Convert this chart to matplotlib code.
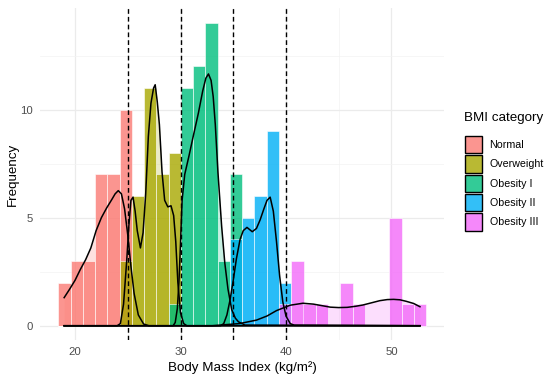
import matplotlib
matplotlib.use("Agg")
import matplotlib.pyplot as plt
from matplotlib.patches import Patch
from matplotlib.colors import to_rgba

plt.rcParams["font.family"] = ["Liberation Sans", "DejaVu Sans"]

categories = ["Normal", "Overweight", "Obesity I", "Obesity II", "Obesity III"]
colors = ["#FB7B74", "#A8A800", "#00BF7D", "#00B0F6", "#F36AF9"]

# histogram bins (30 bins, shared by every category)
bin_width = 1.162
bin_centers = [19.00, 20.16, 21.32, 22.49, 23.65, 24.81, 25.97, 27.13, 28.30, 29.46,
               30.62, 31.78, 32.94, 34.11, 35.27, 36.43, 37.59, 38.75, 39.92, 41.08,
               42.24, 43.40, 44.56, 45.73, 46.89, 48.05, 49.21, 50.37, 51.54, 52.70]

normal_counts =     [2, 3, 3, 7, 7, 10, 0, 0, 0, 0, 0, 0, 0, 0, 0,
                     0, 0, 0, 0, 0, 0, 0, 0, 0, 0, 0, 0, 0, 0, 0]
overweight_counts = [0, 0, 0, 0, 0, 3, 6, 11, 7, 8, 0, 0, 0, 0, 0,
                     0, 0, 0, 0, 0, 0, 0, 0, 0, 0, 0, 0, 0, 0, 0]
obesity1_counts =   [0, 0, 0, 0, 0, 0, 0, 0, 0, 1, 11, 12, 14, 3, 7,
                     0, 0, 0, 0, 0, 0, 0, 0, 0, 0, 0, 0, 0, 0, 0]
obesity2_counts =   [0, 0, 0, 0, 0, 0, 0, 0, 0, 0, 0, 0, 0, 0, 4,
                     5, 6, 9, 2, 0, 0, 0, 0, 0, 0, 0, 0, 0, 0, 0]
obesity3_counts =   [0, 0, 0, 0, 0, 0, 0, 0, 0, 0, 0, 0, 0, 0, 0,
                     0, 0, 0, 1, 3, 1, 1, 0, 2, 1, 0, 0, 5, 1, 1]

# density curves (count scale)
normal_dx = [18.97, 19.5, 20.0, 20.5, 21.0, 21.5, 22.0, 22.5, 23.0, 23.5, 23.8, 24.1,
             24.4, 24.7, 25.0, 25.3, 25.6, 26.0, 26.5, 27.0, 52.7]
normal_dy = [1.30, 1.70, 2.10, 2.60, 3.05, 3.60, 4.40, 5.00, 5.45, 5.85, 6.10, 6.25,
             6.10, 5.40, 4.20, 2.75, 1.50, 0.50, 0.08, 0.0, 0.0]

overweight_dx = [18.97, 24.0, 24.3, 24.6, 24.9, 25.1, 25.3, 25.5, 25.7, 25.9, 26.2, 26.45,
                 26.7, 26.95, 27.2, 27.45, 27.6, 27.8, 28.0, 28.25, 28.5, 28.8, 29.1, 29.35,
                 29.55, 29.75, 30.0, 30.3, 30.6, 52.7]
overweight_dy = [0.0, 0.0, 0.1, 1.0, 3.0, 4.6, 5.8, 5.95, 5.3, 4.4, 3.6, 4.3,
                 6.1, 8.75, 10.3, 11.0, 11.15, 10.35, 9.3, 7.1, 5.8, 5.5, 5.55, 5.1,
                 3.9, 2.0, 0.6, 0.1, 0.0, 0.0]

obesity1_dx = [18.97, 29.3, 29.5, 29.7, 29.85, 30.0, 30.15, 30.4, 30.8, 31.2, 31.7, 32.1,
               32.4, 32.65, 32.9, 33.1, 33.3, 33.55, 33.9, 34.2, 34.5, 34.85, 35.2, 35.5,
               36.1, 52.7]
obesity1_dy = [0.0, 0.0, 0.15, 0.8, 2.0, 3.8, 5.8, 7.0, 7.85, 8.75, 9.85, 10.85,
               11.45, 11.65, 11.35, 10.6, 9.3, 7.1, 4.6, 2.9, 1.7, 0.75, 0.35, 0.18,
               0.03, 0.0]

obesity2_dx = [18.97, 33.8, 34.1, 34.4, 34.7, 35.0, 35.3, 35.65, 35.95, 36.3, 36.8, 37.2,
               37.55, 37.9, 38.2, 38.5, 38.8, 39.1, 39.4, 39.7, 40.0, 40.4, 40.8, 52.7]
obesity2_dy = [0.0, 0.0, 0.1, 0.5, 1.2, 2.1, 3.1, 4.0, 4.4, 4.55, 4.35, 4.5,
               4.9, 5.4, 5.8, 5.95, 5.3, 3.9, 2.3, 1.1, 0.45, 0.1, 0.02, 0.0]

obesity3_dx = [18.97, 33.0, 35.6, 37.2, 38.2, 39.1, 40.4, 41.6, 42.6, 43.4, 44.2, 45.0,
               45.8, 46.6, 47.3, 48.1, 48.9, 49.6, 50.2, 50.8, 51.4, 52.1, 52.7]
obesity3_dy = [0.0, 0.0, 0.1, 0.26, 0.45, 0.7, 0.95, 1.04, 1.0, 0.93, 0.86, 0.84,
               0.85, 0.9, 0.96, 1.06, 1.16, 1.21, 1.22, 1.2, 1.13, 1.03, 0.88]

cutoffs = [25, 30, 35, 40]

all_counts = [normal_counts, overweight_counts, obesity1_counts, obesity2_counts, obesity3_counts]
all_dx = [normal_dx, overweight_dx, obesity1_dx, obesity2_dx, obesity3_dx]
all_dy = [normal_dy, overweight_dy, obesity1_dy, obesity2_dy, obesity3_dy]

fig = plt.figure(figsize=(5.5, 3.79), dpi=100)
ax = fig.add_axes([40 / 550, 39 / 379, 404 / 550, 332 / 379])

# theme_minimal-ish grid
ax.set_xticks([20, 30, 40, 50])
ax.set_xticks([25, 35, 45], minor=True)
ax.set_yticks([0, 5, 10])
ax.set_yticks([2.5, 7.5, 12.5], minor=True)
ax.grid(True, which="major", color="#EBEBEB", linewidth=0.9)
ax.grid(True, which="minor", color="#F3F3F3", linewidth=0.5)
ax.set_axisbelow(True)
for sp in ax.spines.values():
    sp.set_visible(False)
ax.tick_params(which="both", length=0, labelsize=8.2, labelcolor="#4D4D4D", pad=5)

# density fills under the bars
for dx, dy, c in zip(all_dx, all_dy, colors):
    ax.fill_between(dx, 0, dy, color=c, alpha=0.22, linewidth=0, zorder=1)

# histogram bars, later categories drawn on top
for counts, c in zip(all_counts, colors):
    ax.bar(bin_centers, counts, width=bin_width, color=c, alpha=0.8,
           edgecolor="white", linewidth=0.5, zorder=2)

# density outlines
for dx, dy in zip(all_dx, all_dy):
    ax.plot(dx, dy, color="black", linewidth=1.1, zorder=4)

for xc in cutoffs:
    ax.axvline(xc, color="black", linewidth=1.0, linestyle=(0, (3.4, 2.2)), zorder=5)

ax.set_xlim(16.68, 54.98)
ax.set_ylim(-0.66, 14.7)
ax.set_xlabel("Body Mass Index (kg/m²)", fontsize=9.6, labelpad=3)
ax.set_ylabel("Frequency", fontsize=9.6, labelpad=1)

handles = [Patch(facecolor=to_rgba(c, 0.8), edgecolor="black", linewidth=1.0) for c in colors]
fig.text(464 / 550, 1 - 118 / 379, "BMI category", fontsize=9.6, va="center", ha="left")
fig.legend(handles, categories, loc="upper left", bbox_to_anchor=(465 / 550, 1 - 136 / 379),
           frameon=False, fontsize=7.7, handlelength=1.6, handleheight=2.11,
           labelspacing=0.19, handletextpad=0.7, borderpad=0, borderaxespad=0)

fig.savefig("out.png", dpi=100)
